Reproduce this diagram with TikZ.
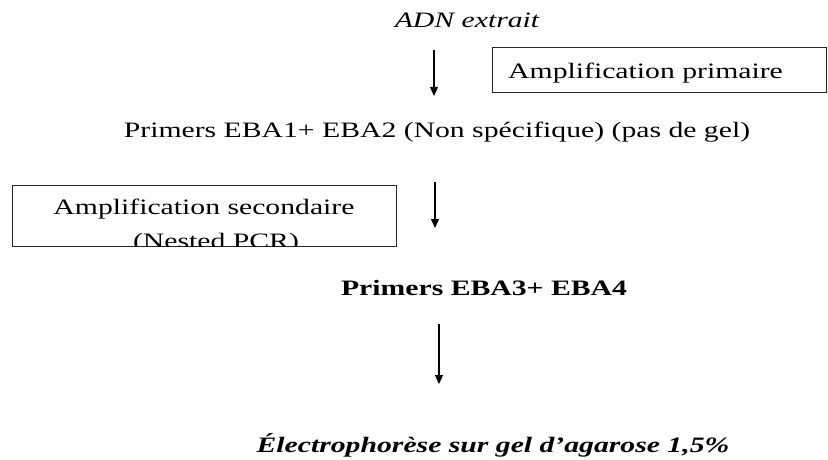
\documentclass[tikz,border=0pt]{standalone}
\usepackage{fontspec}
\setmainfont{Liberation Serif}
\usetikzlibrary{arrows.meta}
\newcommand{\stretchx}[1]{\scalebox{1.35}[1]{#1}}
\begin{document}
\begin{tikzpicture}[x=1pt,y=-1pt,
  lbl/.style={inner sep=0pt,anchor=base,font=\fontsize{22}{26}\selectfont},
  boxed/.style={draw=black!85,line width=1pt},
  arr/.style={line width=1.1pt,-{Triangle[length=9pt,width=8pt]}}]
\useasboundingbox (0,0) rectangle (828,460);
\node[lbl,font=\fontsize{22}{26}\selectfont\itshape] (adn) at (467,28) {\stretchx{ADN extrait}};
\coordinate (a1s) at (434,50);
\coordinate (a1e) at (434,96);
\draw[arr] (a1s) -- (a1e);
\node[boxed,minimum width=334,minimum height=45,inner sep=0pt] (b1) at (659.5,70.5) {};
\node[lbl,anchor=base west] (b1t) at (508,79) {\stretchx{Amplification primaire}};
\node[lbl] (p1) at (437,137) {\stretchx{Primers EBA1+ EBA2 (Non spécifique) (pas de gel)}};
\node[boxed,minimum width=384,minimum height=61,inner sep=0pt] (b2) at (204,215.5) {};
\begin{scope}
\clip (b2.south west) rectangle (b2.north east);
\node[lbl] (b2t1) at (204,214) {\stretchx{Amplification secondaire}};
\node[lbl] (b2t2) at (216,248) {\stretchx{(Nested PCR)}};
\end{scope}
\coordinate (a2s) at (435,182);
\coordinate (a2e) at (435,228);
\draw[arr] (a2s) -- (a2e);
\node[lbl,font=\fontsize{22}{26}\selectfont\bfseries] (p2) at (484,295) {\stretchx{Primers EBA3+ EBA4}};
\coordinate (a3s) at (439,324);
\coordinate (a3e) at (439,384);
\draw[arr] (a3s) -- (a3e);
\node[lbl,font=\fontsize{22}{26}\selectfont\bfseries\itshape] (el) at (493,452) {\stretchx{Électrophorèse sur gel d’agarose 1,5\%}};
\end{tikzpicture}
\end{document}
